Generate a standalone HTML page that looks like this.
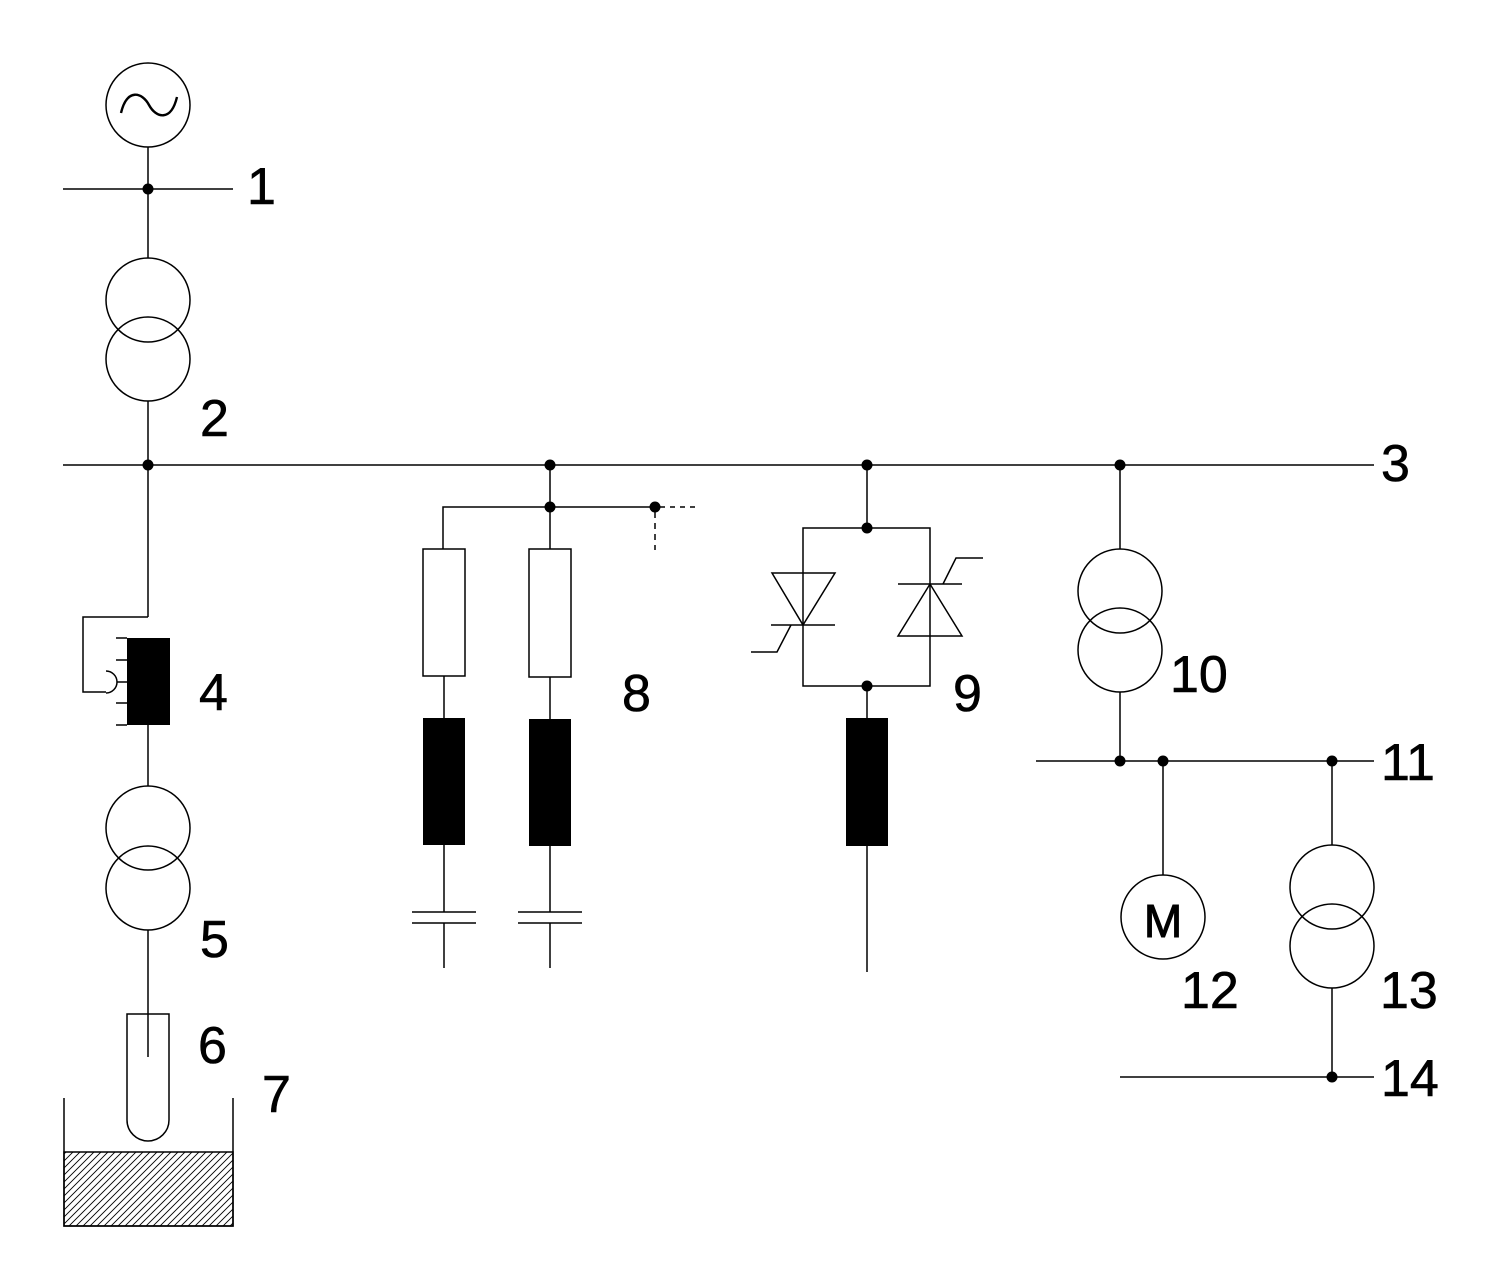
<!DOCTYPE html>
<html>
<head>
<meta charset="utf-8">
<style>
html,body{margin:0;padding:0;background:#fff;}
svg{display:block;}
text{font-family:"Liberation Sans",Arial,sans-serif;fill:#000;}
</style>
</head>
<body>
<svg width="1500" height="1288" viewBox="0 0 1500 1288" xmlns="http://www.w3.org/2000/svg">
<defs>
<pattern id="hatch" patternUnits="userSpaceOnUse" width="7" height="7">
<path d="M-1,1 L1,-1 M0,7 L7,0 M6,8 L8,6" stroke="#000" stroke-width="0.9"/>
</pattern>
</defs>
<g fill="none" stroke="#000" stroke-width="1.5">
<!-- generator -->
<circle cx="148" cy="105" r="42"/>
<path d="M121,113 C127,88 142,92 149,105 C156,118 171,122 177,97" stroke-width="2.4"/>
<line x1="148" y1="147" x2="148" y2="258"/>
<!-- bus 1 -->
<line x1="63" y1="189" x2="233" y2="189"/>
<!-- transformer 2 -->
<circle cx="148" cy="300" r="42"/>
<circle cx="148" cy="359" r="42"/>
<line x1="148" y1="401" x2="148" y2="617"/>
<!-- bus 3 -->
<line x1="63" y1="465" x2="1374" y2="465"/>
<!-- item 4 wiring -->
<polyline points="148,617 83,617 83,692 106,692"/>
<path d="M106,671 A11,11 0 0 1 106,693"/>
<line x1="116" y1="638" x2="127" y2="638"/>
<line x1="116" y1="660" x2="127" y2="660"/>
<line x1="117" y1="682" x2="127" y2="682"/>
<line x1="116" y1="703" x2="127" y2="703"/>
<line x1="116" y1="725" x2="127" y2="725"/>
<line x1="148" y1="725" x2="148" y2="786"/>
<!-- transformer 5 -->
<circle cx="148" cy="828" r="42"/>
<circle cx="148" cy="888" r="42"/>
<line x1="148" y1="930" x2="148" y2="1057"/>
<!-- electrode 6 -->
<path d="M127,1014 L169,1014 L169,1120 A21,21 0 0 1 127,1120 Z"/>
<!-- container 7 -->
<polyline points="64,1098 64,1226 233,1226 233,1098"/>
<!-- item 8 -->
<line x1="550" y1="465" x2="550" y2="549"/>
<polyline points="443,549 443,507 655,507"/>
<line x1="660" y1="507" x2="700" y2="507" stroke-dasharray="5,5"/>
<line x1="655" y1="512" x2="655" y2="550" stroke-dasharray="6,5"/>
<rect x="423" y="549" width="42" height="127"/>
<rect x="529" y="549" width="42" height="128"/>
<line x1="444" y1="676" x2="444" y2="718"/>
<line x1="550" y1="677" x2="550" y2="719"/>
<line x1="444" y1="845" x2="444" y2="912"/>
<line x1="550" y1="846" x2="550" y2="912"/>
<line x1="412" y1="912" x2="476" y2="912"/>
<line x1="412" y1="923" x2="476" y2="923"/>
<line x1="518" y1="912" x2="582" y2="912"/>
<line x1="518" y1="923" x2="582" y2="923"/>
<line x1="444" y1="923" x2="444" y2="968"/>
<line x1="550" y1="923" x2="550" y2="968"/>
<!-- item 9 -->
<line x1="867" y1="465" x2="867" y2="528"/>
<rect x="803" y="528" width="127" height="158"/>
<polygon points="772,573 835,573 803,625" fill="#fff"/>
<line x1="771" y1="625" x2="835" y2="625"/>
<polyline points="791,625 777,652 751,652"/>
<polygon points="898,636 962,636 930,584" fill="#fff"/>
<line x1="898" y1="584" x2="962" y2="584"/>
<polyline points="943,584 956,558 983,558"/>
<line x1="803" y1="573" x2="803" y2="625"/>
<line x1="930" y1="584" x2="930" y2="636"/>
<line x1="867" y1="686" x2="867" y2="718"/>
<line x1="867" y1="846" x2="867" y2="972"/>
<!-- transformer 10 -->
<line x1="1120" y1="465" x2="1120" y2="549"/>
<circle cx="1120" cy="591" r="42"/>
<circle cx="1120" cy="650" r="42"/>
<line x1="1120" y1="692" x2="1120" y2="761"/>
<!-- bus 11 -->
<line x1="1036" y1="761" x2="1374" y2="761"/>
<!-- motor 12 -->
<line x1="1163" y1="761" x2="1163" y2="875"/>
<circle cx="1163" cy="917" r="42"/>
<!-- transformer 13 -->
<line x1="1332" y1="761" x2="1332" y2="845"/>
<circle cx="1332" cy="887" r="42"/>
<circle cx="1332" cy="946" r="42"/>
<line x1="1332" y1="988" x2="1332" y2="1077"/>
<!-- bus 14 -->
<line x1="1120" y1="1077" x2="1374" y2="1077"/>
</g>
<!-- filled shapes -->
<rect x="127" y="638" width="43" height="87" fill="#000"/>
<rect x="423" y="718" width="42" height="127" fill="#000"/>
<rect x="529" y="719" width="42" height="127" fill="#000"/>
<rect x="846" y="718" width="42" height="128" fill="#000"/>
<rect x="64" y="1152" width="169" height="74" fill="url(#hatch)" stroke="#000" stroke-width="1.5"/>
<!-- dots -->
<g fill="#000">
<circle cx="148" cy="189" r="5.5"/>
<circle cx="148" cy="465" r="5.5"/>
<circle cx="550" cy="465" r="5.5"/>
<circle cx="550" cy="507" r="5.5"/>
<circle cx="655" cy="507" r="5.5"/>
<circle cx="867" cy="465" r="5.5"/>
<circle cx="867" cy="528" r="5.5"/>
<circle cx="867" cy="686" r="5.5"/>
<circle cx="1120" cy="465" r="5.5"/>
<circle cx="1120" cy="761" r="5.5"/>
<circle cx="1163" cy="761" r="5.5"/>
<circle cx="1332" cy="761" r="5.5"/>
<circle cx="1332" cy="1077" r="5.5"/>
</g>
<!-- labels -->
<g font-size="52" stroke="#000" stroke-width="0.6">
<text x="247" y="204">1</text>
<text x="200" y="436">2</text>
<text x="1381" y="481">3</text>
<text x="199" y="710">4</text>
<text x="200" y="957">5</text>
<text x="198" y="1063">6</text>
<text x="262" y="1112">7</text>
<text x="622" y="711">8</text>
<text x="953" y="711">9</text>
<text x="1170" y="692">10</text>
<text x="1381" y="780">11</text>
<text x="1181" y="1008">12</text>
<text x="1380" y="1008">13</text>
<text x="1381" y="1096">14</text>
</g>
<text x="1163" y="937" font-size="46" text-anchor="middle" stroke="#000" stroke-width="1">M</text>
</svg>
</body>
</html>
